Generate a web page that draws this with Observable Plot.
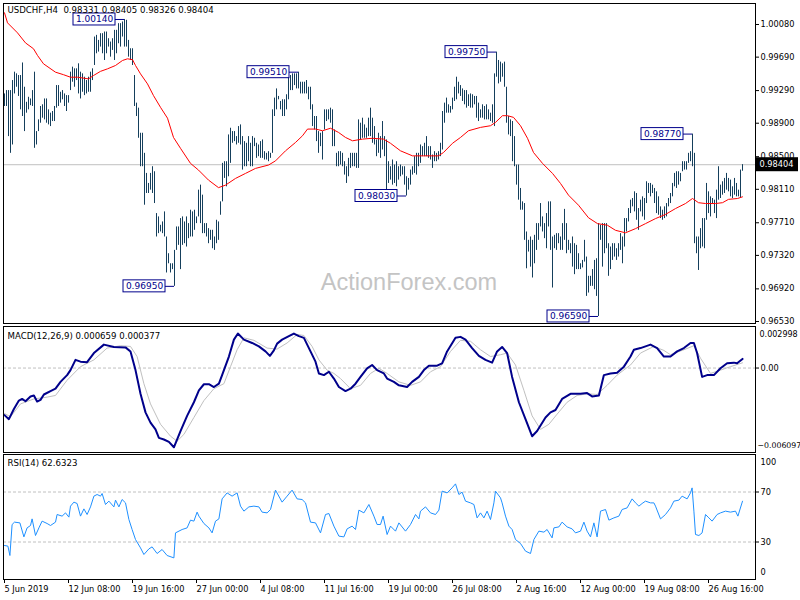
<!DOCTYPE html>
<html><head><meta charset="utf-8">
<script src="https://cdn.jsdelivr.net/npm/d3@7"></script>
<script src="https://cdn.jsdelivr.net/npm/@observablehq/plot@0.6"></script>
<style>
body{margin:0;background:#fff;}
#wrap{position:relative;width:800px;height:600px;overflow:hidden;background:#fff;}
</style></head><body><div id="wrap"></div>
<script>
// ---------- DATA ----------
const symbolTitle = "USDCHF,H4";
const lastBar = {open: 0.98331, high: 0.98405, low: 0.98326, close: 0.98404};
const barHigh = [
0.9925,0.9929,0.9929,0.9929,0.9941,0.9951,0.9949,0.9947,0.9947,0.9962,
0.9933,0.9915,0.9921,0.9919,0.9929,0.9951,0.9880,0.9894,0.9910,0.9912,
0.9919,0.9919,0.9906,0.9902,0.9904,0.9910,0.9935,0.9935,0.9927,0.9929,
0.9925,0.9923,0.9923,0.9951,0.9957,0.9955,0.9955,0.9961,0.9951,0.9949,
0.9945,0.9941,0.9945,0.9951,0.9955,0.9993,0.9995,0.9989,0.9997,0.9997,
0.9999,0.9999,0.9991,0.9987,0.9991,1.0001,1.0001,1.0009,1.0009,1.0011,
1.0014,1.0013,0.9989,0.9979,0.9979,0.9947,0.9914,0.9908,0.9878,0.9878,
0.9854,0.9830,0.9818,0.9830,0.9838,0.9832,0.9782,0.9778,0.9768,0.9772,
0.9784,0.9754,0.9734,0.9722,0.9722,0.9738,0.9766,0.9766,0.9776,0.9778,
0.9772,0.9778,0.9770,0.9786,0.9784,0.9786,0.9778,0.9810,0.9816,0.9804,
0.9770,0.9770,0.9764,0.9762,0.9762,0.9754,0.9774,0.9772,0.9796,0.9842,
0.9844,0.9844,0.9876,0.9884,0.9880,0.9880,0.9874,0.9886,0.9888,0.9874,
0.9868,0.9866,0.9874,0.9866,0.9874,0.9872,0.9866,0.9864,0.9868,0.9870,
0.9856,0.9854,0.9856,0.9854,0.9906,0.9920,0.9931,0.9922,0.9916,0.9918,
0.9918,0.9924,0.9947,0.9947,0.9949,0.9949,0.9949,0.9951,0.9939,0.9939,
0.9939,0.9941,0.9933,0.9933,0.9912,0.9898,0.9898,0.9880,0.9878,0.9880,
0.9906,0.9906,0.9906,0.9908,0.9906,0.9882,0.9854,0.9856,0.9856,0.9854,
0.9844,0.9838,0.9848,0.9854,0.9854,0.9854,0.9854,0.9894,0.9890,0.9896,
0.9888,0.9884,0.9896,0.9908,0.9896,0.9886,0.9870,0.9878,0.9874,0.9892,
0.9874,0.9870,0.9844,0.9838,0.9846,0.9840,0.9844,0.9838,0.9840,0.9838,
0.9838,0.9826,0.9824,0.9834,0.9838,0.9850,0.9854,0.9854,0.9864,0.9862,
0.9866,0.9874,0.9862,0.9862,0.9852,0.9856,0.9854,0.9856,0.9866,0.9904,
0.9914,0.9920,0.9912,0.9910,0.9920,0.9933,0.9945,0.9939,0.9935,0.9931,
0.9929,0.9929,0.9924,0.9925,0.9924,0.9922,0.9922,0.9914,0.9906,0.9912,
0.9910,0.9912,0.9906,0.9902,0.9912,0.9949,0.9975,0.9965,0.9963,0.9961,
0.9963,0.9933,0.9898,0.9894,0.9892,0.9874,0.9840,0.9840,0.9812,0.9796,
0.9794,0.9760,0.9750,0.9754,0.9750,0.9756,0.9770,0.9770,0.9794,0.9778,
0.9770,0.9782,0.9796,0.9796,0.9754,0.9756,0.9758,0.9758,0.9754,0.9770,
0.9787,0.9770,0.9750,0.9746,0.9754,0.9746,0.9744,0.9734,0.9722,0.9726,
0.9750,0.9730,0.9707,0.9707,0.9715,0.9726,0.9728,0.9770,0.9768,0.9770,
0.9770,0.9770,0.9746,0.9742,0.9746,0.9746,0.9740,0.9746,0.9758,0.9754,
0.9776,0.9776,0.9788,0.9798,0.9800,0.9808,0.9806,0.9788,0.9798,0.9802,
0.9800,0.9820,0.9818,0.9818,0.9816,0.9812,0.9808,0.9802,0.9790,0.9786,
0.9790,0.9794,0.9800,0.9806,0.9818,0.9830,0.9832,0.9832,0.9830,0.9844,
0.9844,0.9844,0.9854,0.9856,0.9877,0.9854,0.9754,0.9754,0.9764,0.9776,
0.9776,0.9818,0.9808,0.9802,0.9800,0.9798,0.9810,0.9838,0.9816,0.9820,
0.9824,0.9830,0.9824,0.9822,0.9814,0.9824,0.9818,0.9810,0.9834,0.98405];
const barLow = [
0.9910,0.9910,0.9874,0.9854,0.9864,0.9925,0.9933,0.9922,0.9906,0.9898,
0.9880,0.9902,0.9906,0.9911,0.9910,0.9860,0.9864,0.9880,0.9890,0.9896,
0.9894,0.9890,0.9888,0.9886,0.9892,0.9892,0.9908,0.9910,0.9914,0.9918,
0.9910,0.9904,0.9914,0.9929,0.9939,0.9933,0.9941,0.9925,0.9919,0.9927,
0.9923,0.9925,0.9927,0.9927,0.9941,0.9959,0.9973,0.9975,0.9981,0.9973,
0.9965,0.9973,0.9981,0.9969,0.9977,0.9965,0.9973,0.9985,0.9981,0.9993,
0.9981,0.9981,0.9969,0.9965,0.9959,0.9910,0.9898,0.9872,0.9838,0.9838,
0.9792,0.9806,0.9806,0.9810,0.9806,0.9794,0.9754,0.9758,0.9760,0.9758,
0.9754,0.9711,0.9722,0.9711,0.9715,0.9695,0.9738,0.9744,0.9715,0.9744,
0.9746,0.9742,0.9752,0.9754,0.9754,0.9762,0.9770,0.9778,0.9770,0.9758,
0.9758,0.9754,0.9746,0.9750,0.9740,0.9738,0.9746,0.9750,0.9780,0.9796,
0.9824,0.9814,0.9826,0.9842,0.9866,0.9868,0.9864,0.9866,0.9864,0.9834,
0.9838,0.9838,0.9844,0.9838,0.9838,0.9862,0.9848,0.9850,0.9848,0.9848,
0.9846,0.9846,0.9844,0.9848,0.9854,0.9898,0.9906,0.9918,0.9906,0.9898,
0.9898,0.9906,0.9918,0.9929,0.9929,0.9935,0.9931,0.9931,0.9925,0.9925,
0.9925,0.9925,0.9918,0.9906,0.9886,0.9882,0.9868,0.9854,0.9862,0.9846,
0.9882,0.9892,0.9894,0.9890,0.9862,0.9862,0.9838,0.9838,0.9840,0.9838,
0.9828,0.9818,0.9826,0.9836,0.9838,0.9838,0.9836,0.9836,0.9870,0.9872,
0.9872,0.9872,0.9874,0.9874,0.9866,0.9864,0.9850,0.9854,0.9848,0.9858,
0.9850,0.9806,0.9818,0.9822,0.9816,0.9818,0.9814,0.9822,0.9826,0.9828,
0.9816,0.9803,0.9810,0.9816,0.9828,0.9830,0.9828,0.9838,0.9842,0.9850,
0.9850,0.9850,0.9848,0.9846,0.9836,0.9844,0.9844,0.9846,0.9850,0.9858,
0.9890,0.9902,0.9902,0.9902,0.9906,0.9916,0.9918,0.9925,0.9922,0.9916,
0.9912,0.9908,0.9910,0.9908,0.9908,0.9912,0.9896,0.9892,0.9896,0.9896,
0.9894,0.9894,0.9894,0.9892,0.9890,0.9886,0.9945,0.9937,0.9939,0.9945,
0.9933,0.9890,0.9876,0.9874,0.9844,0.9838,0.9816,0.9798,0.9786,0.9786,
0.9750,0.9716,0.9736,0.9718,0.9705,0.9722,0.9738,0.9750,0.9766,0.9760,
0.9752,0.9740,0.9766,0.9738,0.9693,0.9740,0.9738,0.9746,0.9738,0.9738,
0.9750,0.9734,0.9738,0.9734,0.9718,0.9709,0.9715,0.9715,0.9715,0.9717,
0.9724,0.9683,0.9687,0.9695,0.9695,0.9691,0.9683,0.9659,0.9750,0.9718,
0.9734,0.9740,0.9707,0.9715,0.9726,0.9730,0.9726,0.9730,0.9738,0.9722,
0.9742,0.9760,0.9772,0.9782,0.9790,0.9784,0.9774,0.9762,0.9784,0.9778,
0.9774,0.9794,0.9806,0.9802,0.9806,0.9794,0.9782,0.9780,0.9776,0.9774,
0.9776,0.9778,0.9790,0.9794,0.9802,0.9814,0.9812,0.9816,0.9820,0.9832,
0.9834,0.9834,0.9842,0.9844,0.9838,0.9746,0.9734,0.9714,0.9740,0.9742,
0.9740,0.9774,0.9782,0.9778,0.9794,0.9782,0.9776,0.9798,0.9800,0.9804,
0.9806,0.9810,0.9808,0.9802,0.9800,0.9804,0.9802,0.9802,0.9800,0.98326];

// moving average (red) read at bar positions
const maIdx = [0,1.5,6.5,10.5,14.5,16.5,19.5,25.5,29.5,33,36.5,42,44.5,48,51.5,55.5,59,61.5,64,65.5,68,71.5,74.5,78,81.5,84.5,88,93,97,102,107,110.5,115.5,120.5,125.5,132,135.5,140.5,145.5,149,151.5,155.5,159,163,167,170.5,174,179,184,189.5,193,198,204,209.5,217,219.5,224,228,232,238,243,245.5,249,251.5,254.5,258,261.5,264.5,269,274,278,282,287,292,296.5,301.5,305.5,310.5,315.5,320.5,325.5,330.5,335.5,340.5,344,347,350.5,355.5,359,362,366.5,369];
const maVal = [1.0022,1.0010,0.9998,0.9986,0.9979,0.9971,0.9961,0.9951,0.9948,0.9945,0.9945,0.9943,0.9947,0.9952,0.9955,0.9959,0.9965,0.9967,0.9966,0.9959,0.9949,0.9937,0.9923,0.9909,0.9896,0.9873,0.9860,0.9842,0.9834,0.9822,0.9813,0.9816,0.9824,0.9830,0.9836,0.9840,0.9845,0.9857,0.9867,0.9875,0.9883,0.9883,0.9881,0.9884,0.9879,0.9873,0.9869,0.9871,0.9872,0.9871,0.9866,0.9857,0.9851,0.9851,0.9851,0.9855,0.9866,0.9873,0.9881,0.9885,0.9887,0.9891,0.9899,0.9899,0.9897,0.9887,0.9872,0.9855,0.9842,0.9830,0.9818,0.9804,0.9792,0.9777,0.9770,0.9768,0.9762,0.9759,0.9764,0.9770,0.9776,0.9781,0.9788,0.9794,0.9800,0.9795,0.9794,0.9794,0.9795,0.9799,0.9800,0.9802];

// swing labels
const swingIdx = [60, 85, 147, 201, 246, 297, 344];
const swingVal = [1.0014, 0.9695, 0.9951, 0.9803, 0.9975, 0.9659, 0.9877];

// price axis ticks
const priceTicks = [1.0008,0.9969,0.9929,0.9890,0.9850,0.9811,0.9771,0.9732,0.9692,0.9653];

// MACD (12,26,9)
const macdIdx = [0,2.2,4.7,7.2,8.8,10.5,13,14.7,16.3,18,19.7,23,25.5,28,31.3,33,35.5,38,41.3,44.7,49.7,54.7,60.5,63,65.5,68,70.5,73,75.5,77.2,79.7,82.2,84.7,88,91.3,94.7,97.2,99.7,102.2,104.7,107.2,108.8,112.2,114.7,116.7,119.7,123.8,127.2,130.5,132.7,134.7,136.3,138.8,142.2,144.7,147.2,149.7,153,155.5,157.2,159.7,162.2,164.7,167.2,170.5,173,175.5,178,181.3,183.8,186.3,189.7,191.3,194.7,197.2,201.3,203.8,207.2,209.7,212.2,216.3,218.8,221.3,225.5,228,230.5,233.8,237.2,240.5,243.8,246.3,248.8,251.3,253.8,257.2,260.5,263.8,266.3,270.5,273,275.5,278.8,283,288,291.3,293.8,297.2,299.7,303,306.3,309.7,313,314.7,318,323,326.3,329.7,333,336.3,339.7,343,344.7,346.3,348.8,351.3,354.7,358,361.3,364.7,366.3,369];
const macdVal = [-0.00340,-0.00369,-0.00296,-0.00235,-0.00223,-0.00240,-0.00205,-0.00198,-0.00242,-0.00230,-0.00191,-0.00166,-0.00149,-0.00100,-0.00051,-0.00015,0.00059,0.00046,0.00042,0.00108,0.00169,0.00152,0.00149,0.00120,-0.00015,-0.00186,-0.00320,-0.00394,-0.00443,-0.00504,-0.00516,-0.00533,-0.00572,-0.00455,-0.00345,-0.00247,-0.00161,-0.00117,-0.00117,-0.00137,-0.00113,-0.00051,0.00083,0.00205,0.00249,0.00205,0.00181,0.00156,0.00120,0.00088,0.00127,0.00176,0.00205,0.00230,0.00249,0.00230,0.00218,0.00120,0.00046,-0.00039,-0.00051,-0.00027,-0.00076,-0.00137,-0.00166,-0.00149,-0.00113,-0.00064,-0.00002,0.00022,-0.00015,-0.00039,-0.00076,-0.00100,-0.00125,-0.00137,-0.00100,-0.00064,-0.00015,0.00017,0.00017,0.00034,0.00120,0.00218,0.00225,0.00205,0.00144,0.00088,0.00059,0.00039,0.00120,0.00152,0.00108,-0.00064,-0.00247,-0.00369,-0.00492,-0.00455,-0.00357,-0.00320,-0.00303,-0.00223,-0.00186,-0.00186,-0.00181,-0.00205,-0.00198,-0.00051,-0.00039,-0.00034,0.00010,0.00083,0.00132,0.00144,0.00169,0.00144,0.00083,0.00083,0.00120,0.00144,0.00181,0.00181,0.00108,-0.00064,-0.00051,-0.00051,-0.00002,0.00034,0.00039,0.00034,0.000659];
const signalIdx = [0,3,8,14.7,21.3,25.5,31.3,38,44.7,51.3,58,63,66.3,69.7,73,78,83,86.3,89.7,94.7,99.7,104.7,109.7,113,116.3,119.7,124.7,131.3,136.3,141.3,146.3,149.7,153.8,157.2,161.3,164.7,168,173,178,183,187.2,191.3,197.2,203,208,213,218,223,228,233,238,243,248,251.3,255.5,259.7,263.8,268,272.2,276.3,281.3,286.3,291.3,296.3,301.3,306.3,313,318,324.7,329.7,333,339.7,344.7,348,353,358,363,369];
const signalVal = [-0.00328,-0.00352,-0.00259,-0.00223,-0.00210,-0.00198,-0.00088,0.00010,0.00059,0.00144,0.00161,0.00156,0.00083,-0.00113,-0.00259,-0.00406,-0.00492,-0.00528,-0.00479,-0.00357,-0.00235,-0.00149,-0.00113,0.00010,0.00132,0.00218,0.00200,0.00144,0.00137,0.00181,0.00242,0.00235,0.00156,0.00059,-0.00015,-0.00039,-0.00076,-0.00149,-0.00125,-0.00039,-0.00002,-0.00039,-0.00100,-0.00125,-0.00100,-0.00027,0.00010,0.00120,0.00200,0.00193,0.00132,0.00083,0.00096,0.00108,0.00022,-0.00161,-0.00345,-0.00443,-0.00406,-0.00333,-0.00247,-0.00198,-0.00186,-0.00191,-0.00125,-0.00051,0.00022,0.00108,0.00156,0.00127,0.00096,0.00132,0.00161,0.00071,-0.00039,-0.00015,0.00010,0.000377];
const macdRange = [-0.006097, 0.002998];

// RSI (14)
const rsiIdx = [0,1.7,2.7,3.8,5,7.7,9.7,11.3,13,13.8,15.5,17.2,18.8,21.3,23,25.5,26.3,28.8,30.5,32.2,33,34.7,36.3,38,39.7,41.3,43,44.7,46.3,48,48.8,50.5,52.2,54.7,55.5,57.2,58.8,60.5,62.2,63.8,65.5,68,69.7,72.2,73.8,76.3,78.8,81.3,84.7,85.5,88.8,91.3,93,94.7,96.3,97.2,99.7,102.2,103.8,105.5,107.2,108.8,111.3,113.8,116.3,118,119.7,122.2,124.7,127.2,128.8,131.3,133,135.5,138.8,141.3,143.8,146.3,148.8,150.5,153,155.5,158,160.5,162.2,164.7,167.2,169.7,171.3,173.8,175.5,177.2,179.7,182.2,184.7,186.3,188,189.3,191.3,193,195.5,197.2,200.5,203,205.5,207.2,208,210.5,213,215.5,217.2,218.8,221.3,223.8,225.5,227.2,228.8,230.5,233,234.7,236.3,238,239.7,241.3,243,244.7,245.5,248,248.8,250.5,252.2,253.8,255.5,258,260.5,263,264.7,267.2,269.7,271.3,273.8,274.7,277.2,278.8,281.3,283.8,285.5,288,289.7,291.3,293,294.7,296.3,298,300.5,302.2,304.7,307.2,308.8,311.3,313.8,315.5,317.2,318.8,320.5,323,324.7,325.5,328,330.5,333,334.7,337.2,338.8,341.3,343,343.8,344.7,345.5,347.2,348.8,350.5,352.2,353.8,356.3,358,360.5,363,365.5,366.7,369];
const rsiVal = [27.2,26.7,19.2,44.0,45.9,45.3,34.1,41.3,43.2,48.5,35.2,41.3,46.7,44.8,43.2,45.9,52.0,50.7,53.3,49.9,58.7,61.9,60.8,50.7,56.5,52.0,58.1,66.7,68.0,66.7,68.8,60.0,62.7,58.1,63.5,58.1,64.0,61.3,48.0,40.0,32.0,25.3,20.0,24.5,26.1,20.8,24.0,19.2,17.3,37.3,40.0,41.3,47.5,46.7,53.9,50.7,44.8,41.3,37.3,46.7,48.5,64.5,69.3,66.7,69.3,58.7,54.7,58.1,58.7,58.1,53.9,53.3,56.0,71.5,61.9,66.7,71.5,64.5,64.0,61.3,45.9,45.3,37.3,52.0,52.8,42.7,34.7,34.1,40.5,42.7,40.0,55.5,53.3,60.0,50.7,44.0,44.0,50.7,36.0,42.7,38.7,45.3,38.7,44.0,52.0,48.5,54.7,58.1,53.3,52.0,55.5,70.7,69.3,73.3,76.5,68.0,69.9,62.7,61.3,60.0,49.3,53.3,49.3,54.7,48.0,61.3,70.7,65.3,61.3,50.7,42.7,40.0,32.0,28.8,22.7,20.8,32.0,38.7,37.9,40.0,33.3,41.3,42.1,45.9,42.1,40.5,37.3,38.7,45.9,38.7,34.1,45.3,34.1,54.7,56.0,47.5,49.3,50.7,56.0,57.3,64.5,61.3,58.7,60.8,62.7,61.3,61.3,58.7,48.5,52.0,57.3,62.7,63.5,66.7,64.5,69.3,73.3,54.7,36.0,35.2,37.3,52.0,49.3,46.7,52.0,53.3,54.7,53.9,54.7,50.7,62.63];
const rsiLevels = [30, 70];
const rsiLast = 62.6323;

// time axis
const dateIdx = [0,32,64,96,128,160,192,224,256,288,320,352];
const dateLabels = ["5 Jun 2019","12 Jun 08:00","19 Jun 16:00","27 Jun 00:00","4 Jul 08:00","11 Jul 16:00","19 Jul 00:00","26 Jul 08:00","2 Aug 16:00","12 Aug 00:00","19 Aug 08:00","26 Aug 16:00"];

// ---------- BUILD ----------
const bars = barHigh.map((h, i) => ({i, h, l: barLow[i]}));
const ma = maIdx.map((i, k) => ({i, v: maVal[k]}));
const swings = swingIdx.map((i, k) => ({i, p: swingVal[k]}));
const macdPts = macdIdx.map((i, k) => ({i, v: macdVal[k]}));
const sigPts = signalIdx.map((i, k) => ({i, v: signalVal[k]}));
const rsiPts = rsiIdx.map((i, k) => ({i, v: rsiVal[k]}));

const xDomain = [-0.5, 375.5];
const FONT = "'DejaVu Sans', Verdana, sans-serif";
const navy = "#00008b";
const base = {
  width: 800, marginLeft: 3, marginRight: 45,
  style: `font-family:${FONT};font-size:8.2px;background:transparent;overflow:visible;max-width:none;`
};
const f5 = d3.format(".5f");
const f6 = d3.format(".6f");

const main = Plot.plot({
  ...base, height: 325, marginTop: 3, marginBottom: 2,
  x: {domain: xDomain, axis: null},
  y: {domain: [0.96506, 1.00331]},
  marks: [
    Plot.text(["ActionForex.com"], {frameAnchor: "bottom", dx: 29.5, dy: -41.5, lineAnchor: "middle", fontSize: 23.5, fontFamily: "'Liberation Sans', Arial, sans-serif", fill: "#c4c4c4"}),
    Plot.ruleY([lastBar.close], {stroke: "#c0c0c0"}),
    Plot.ruleX(bars, {x: "i", y1: "l", y2: "h", stroke: "#153f5c", strokeWidth: 1}),
    Plot.line(ma, {x: "i", y: "v", stroke: "#ff0000", strokeWidth: 1}),
    Plot.ruleY(swings, {y: "p", x1: "i", x2: "i", insetLeft: -9, stroke: navy}),
    Plot.rect(swings, {x1: "i", x2: "i", y1: "p", y2: "p", insetLeft: -51, insetRight: 9, insetTop: -6, insetBottom: -6, fill: "white", stroke: navy}),
    Plot.text(swings, {x: "i", y: "p", text: d => f5(d.p), dx: -30, fill: navy, fontSize: 9, fontFamily: FONT}),
    Plot.frame({stroke: "black"}),
    Plot.axisY(priceTicks, {anchor: "right", label: null, tickSize: 3, tickPadding: 2, tickFormat: f5, fontSize: 8.2}),
    Plot.rect([lastBar.close], {x1: () => xDomain[1], x2: () => xDomain[1], y1: d => d, y2: d => d, insetLeft: 1, insetRight: -43, insetTop: -7, insetBottom: -7, fill: "black"}),
    Plot.text([lastBar.close], {y: d => d, frameAnchor: "right", text: d => f5(d), dx: 4, textAnchor: "start", fill: "white", fontSize: 8.2}),
    Plot.text([`${symbolTitle}  ${f5(lastBar.open)} ${f5(lastBar.high)} ${f5(lastBar.low)} ${f5(lastBar.close)}`], {frameAnchor: "top-left", dx: 4, dy: 7, lineAnchor: "middle", textAnchor: "start", fill: "black", fontSize: 8.6})
  ]
});

const macdPlot = Plot.plot({
  ...base, height: 128, marginTop: 1, marginBottom: 1,
  x: {domain: xDomain, axis: null},
  y: {domain: macdRange},
  marks: [
    Plot.ruleY([0], {stroke: "#c0c0c0", strokeDasharray: "3,2"}),
    Plot.line(sigPts, {x: "i", y: "v", stroke: "#c0c0c0", strokeWidth: 1}),
    Plot.line(macdPts, {x: "i", y: "v", stroke: navy, strokeWidth: 2}),
    Plot.frame({stroke: "black"}),
    Plot.axisY([0], {anchor: "right", label: null, tickSize: 3, tickPadding: 2, tickFormat: () => "0.00", fontSize: 8.2}),
    Plot.text([f6(macdRange[1])], {frameAnchor: "top-right", textAnchor: "start", lineAnchor: "middle", dx: 4, dy: 8, fontSize: 8}),
    Plot.text([f6(macdRange[0])], {frameAnchor: "bottom-right", textAnchor: "start", lineAnchor: "middle", dx: 2, dy: -7, fontSize: 7.8}),
    Plot.text([`MACD(12,26,9) ${f6(macdVal[macdVal.length-1])} ${f6(signalVal[signalVal.length-1])}`], {frameAnchor: "top-left", dx: 4, dy: 10, lineAnchor: "middle", textAnchor: "start", fontSize: 8.6})
  ]
});

const rsiPlot = Plot.plot({
  ...base, height: 147, marginTop: 1, marginBottom: 21,
  x: {domain: xDomain},
  y: {domain: [0, 100]},
  marks: [
    Plot.ruleY(rsiLevels, {stroke: "#c0c0c0", strokeDasharray: "3,2"}),
    Plot.line(rsiPts, {x: "i", y: "v", stroke: "#1e90ff", strokeWidth: 1}),
    Plot.frame({stroke: "black"}),
    Plot.axisY(rsiLevels, {anchor: "right", label: null, tickSize: 3, tickPadding: 2, fontSize: 8.2}),
    Plot.text(["100"], {frameAnchor: "top-right", textAnchor: "start", lineAnchor: "middle", dx: 5, dy: 8, fontSize: 8.2}),
    Plot.text(["0"], {frameAnchor: "bottom-right", textAnchor: "start", lineAnchor: "middle", dx: 5, dy: -7, fontSize: 8.2}),
    Plot.axisX(dateIdx, {anchor: "bottom", label: null, tickSize: 4, tickPadding: 3, textAnchor: "start", tickFormat: d => dateLabels[dateIdx.indexOf(d)], fontSize: 8.2}),
    Plot.text([`RSI(14) ${rsiLast}`], {frameAnchor: "top-left", dx: 4, dy: 9, lineAnchor: "middle", textAnchor: "start", fontSize: 8.6})
  ]
});

const wrap = document.getElementById("wrap");
[[main, 0], [macdPlot, 325], [rsiPlot, 453]].forEach(([el, top]) => {
  el.style.position = "absolute";
  el.style.left = "0px";
  el.style.top = top + "px";
  wrap.appendChild(el);
});
</script>
</body></html>
